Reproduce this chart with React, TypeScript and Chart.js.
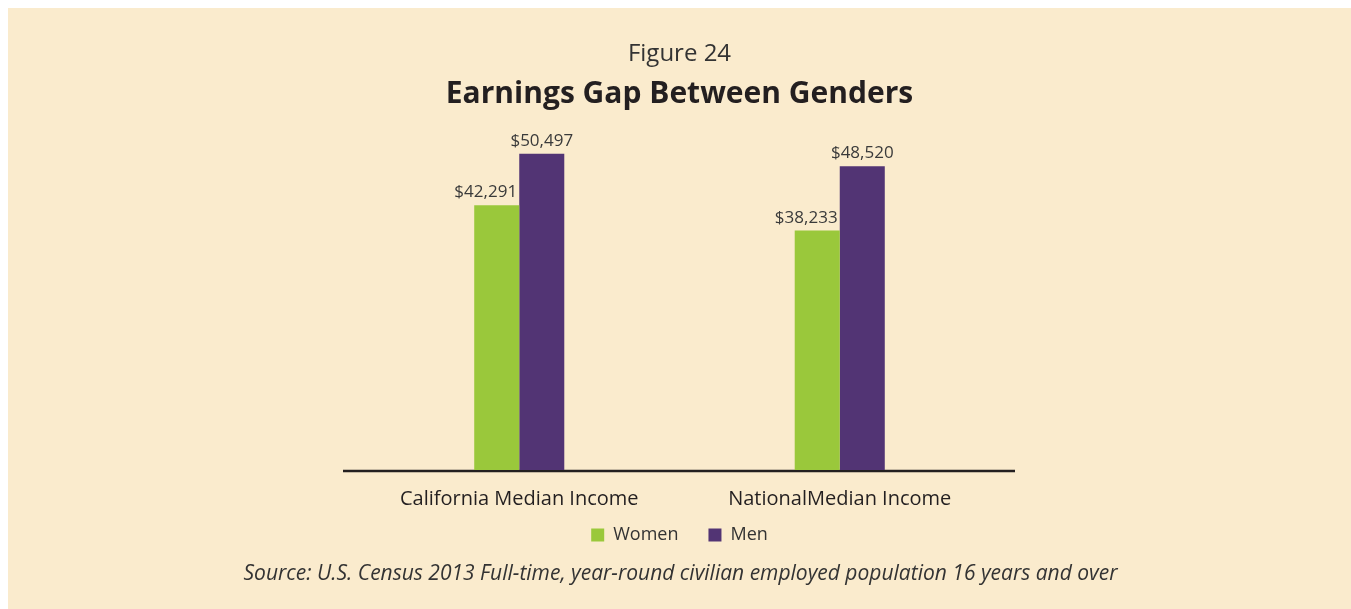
import React, { useEffect, useRef } from "react";
import { Chart, registerables } from "chart.js";

Chart.register(...registerables);

const categories = ["California Median Income", "NationalMedian Income"];
const women = [42291, 38233];
const men = [50497, 48520];
const seriesNames = ["Women", "Men"];
const figureLabel = "Figure 24";
const chartTitle = "Earnings Gap Between Genders";
const sourceNote =
  "Source: U.S. Census 2013 Full-time, year-round civilian employed population 16 years and over";

const BG = "#FAEBCD";
const GREEN = "#9AC83B";
const PURPLE = "#523474";
const TEXT = "#231F20";
const FONT = "'Open Sans', Lato, sans-serif";

const fmt = (v: number) => "$" + v.toLocaleString("en-US");

const extrasPlugin = {
  id: "extras",
  afterLayout(chart: any) {
    const lg = chart.legend;
    if (lg) {
      lg.top -= 20;
      lg.bottom -= 20;
    }
  },
  beforeDatasetsDraw(chart: any) {
    const { ctx, chartArea } = chart;
    const y = chart.scales.y.getPixelForValue(0) + 1;
    ctx.save();
    ctx.strokeStyle = TEXT;
    ctx.lineWidth = 2.5;
    ctx.beginPath();
    ctx.moveTo(chartArea.left - 16, y);
    ctx.lineTo(chartArea.right + 15, y);
    ctx.stroke();
    ctx.restore();
  },
  afterDatasetsDraw(chart: any) {
    const { ctx } = chart;
    const offsets = [-11, 0];
    ctx.save();
    ctx.font = `17px ${FONT}`;
    ctx.fillStyle = "#3A3A3A";
    ctx.textAlign = "center";
    ctx.textBaseline = "alphabetic";
    chart.data.datasets.forEach((ds: any, di: number) => {
      const meta = chart.getDatasetMeta(di);
      meta.data.forEach((bar: any, i: number) => {
        ctx.fillText(fmt(ds.data[i]), bar.x + offsets[di], bar.y - 8);
      });
    });
    ctx.restore();
  },
  afterDraw(chart: any) {
    const { ctx } = chart;
    ctx.save();
    ctx.font = `italic 21px ${FONT}`;
    ctx.fillStyle = "#333333";
    ctx.textAlign = "center";
    ctx.textBaseline = "alphabetic";
    ctx.fillText(sourceNote, chart.width / 2 + 1, chart.height - 29);
    ctx.restore();
  },
};

export default function App() {
  const ref = useRef<HTMLCanvasElement | null>(null);

  useEffect(() => {
    if (!ref.current) return;
    const chart = new Chart(ref.current, {
      type: "bar",
      data: {
        labels: categories,
        datasets: [
          {
            label: seriesNames[0],
            data: women,
            backgroundColor: GREEN,
            borderWidth: 0,
            categoryPercentage: 0.281,
            barPercentage: 1,
          },
          {
            label: seriesNames[1],
            data: men,
            backgroundColor: PURPLE,
            borderWidth: 0,
            categoryPercentage: 0.281,
            barPercentage: 1,
          },
        ],
      },
      options: {
        animation: false,
        responsive: true,
        maintainAspectRatio: false,
        layout: { padding: { left: 351, right: 351, top: 0, bottom: 35 } },
        scales: {
          x: {
            grid: { display: false },
            border: { display: false },
            ticks: { font: { family: FONT, size: 20 }, color: TEXT, padding: 9 },
            afterFit: (scale: any) => {
              scale.height = 46;
            },
          },
          y: { display: false, min: 0, max: 54800 },
        },
        plugins: {
          title: {
            display: true,
            text: figureLabel,
            color: "#333333",
            font: { family: FONT, size: 24, weight: "normal" },
            padding: { top: 32, bottom: 8 },
          },
          subtitle: {
            display: true,
            text: chartTitle,
            color: TEXT,
            font: { family: FONT, size: 30, weight: "bold" },
            padding: { top: 0, bottom: 14 },
          },
          legend: {
            position: "bottom",
            labels: {
              color: "#333333",
              font: { family: FONT, size: 18 },
              boxWidth: 13,
              boxHeight: 13,
              padding: 30,
            },
          },
          tooltip: { enabled: false },
        },
      },
      plugins: [extrasPlugin],
    });
    return () => chart.destroy();
  }, []);

  return (
    <div
      style={{
        position: "absolute",
        left: 8,
        top: 8,
        width: 1343,
        height: 601,
        background: BG,
      }}
    >
      <canvas ref={ref} />
    </div>
  );
}
